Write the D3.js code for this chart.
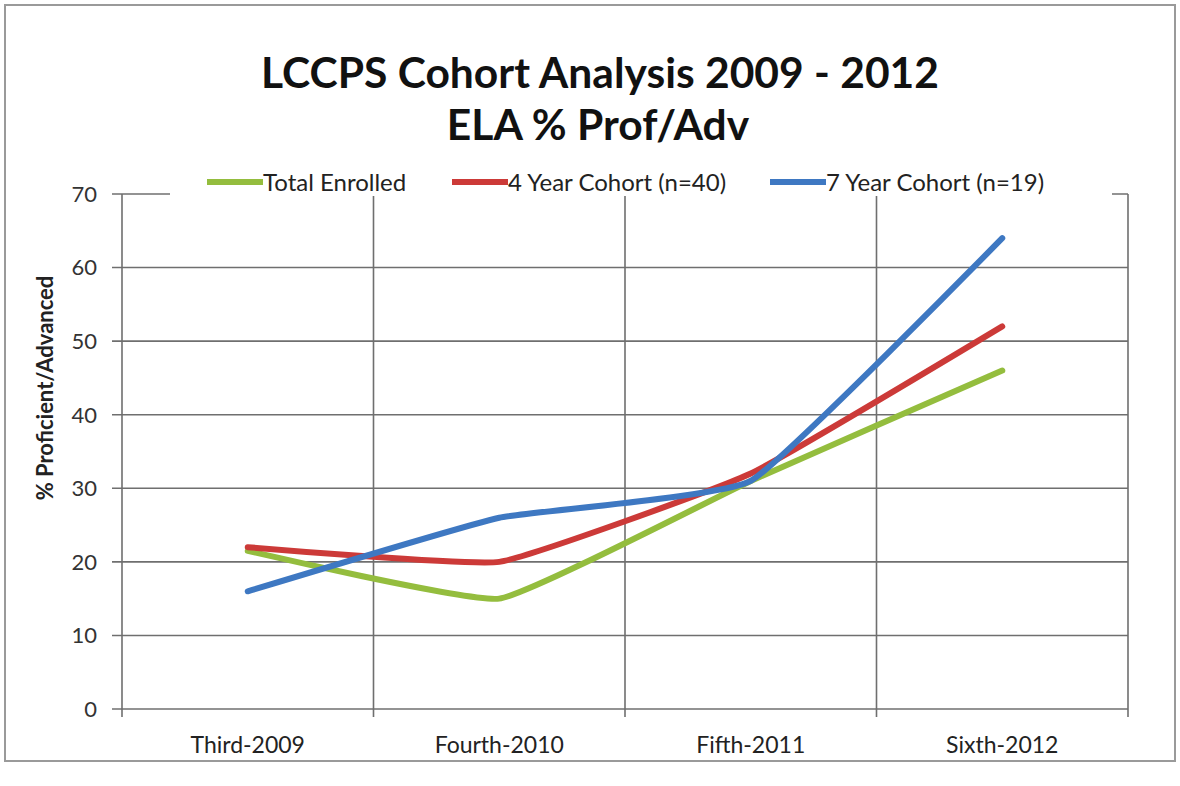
<!DOCTYPE html>
<html><head><meta charset="utf-8">
<script src="https://cdn.jsdelivr.net/npm/d3@7"></script>
<style>
html,body{margin:0;padding:0;background:#fff;}
svg{display:block;}
text{font-family:Lato,"Open Sans",sans-serif;fill:#222;}
</style></head>
<body><svg id="c" width="1180" height="786"></svg>
<script>
const categories = ["Third-2009","Fourth-2010","Fifth-2011","Sixth-2012"];
const seriesNames = ["Total Enrolled","4 Year Cohort (n=40)","7 Year Cohort (n=19)"];
const totalEnrolled = [21.5, 15, 31, 46];
const cohort4 = [22, 20, 32, 52];
const cohort7 = [16, 26, 31, 64];
const yTicks = [0,10,20,30,40,50,60,70];
const colors = ["#94bd3e","#cc3a38","#3e78c2"];

const svg = d3.select("#c");
const M = {left:122, right:1128, top:194, bottom:709};

// outer frame
svg.append("rect").attr("x",5).attr("y",5).attr("width",1170).attr("height",756)
  .attr("fill","#fff").attr("stroke","#9a9a9a").attr("stroke-width",2);

const x = d3.scaleBand().domain(categories).range([M.left,M.right]).padding(0);
const y = d3.scaleLinear().domain([0,70]).range([M.bottom,M.top]);

// horizontal gridlines
svg.append("g").selectAll("line").data(yTicks).join("line")
  .attr("x1",M.left-10).attr("x2",M.right)
  .attr("y1",d=>y(d)).attr("y2",d=>y(d))
  .attr("stroke","#6f6f6f").attr("stroke-width",1.6);

// vertical category separators
const bounds = categories.map(c=>x(c)).concat([M.right]);
svg.append("g").selectAll("line").data(bounds).join("line")
  .attr("x1",d=>d).attr("x2",d=>d)
  .attr("y1",M.top).attr("y2",M.bottom+8)
  .attr("stroke","#6f6f6f").attr("stroke-width",1.6);

// y tick labels
svg.append("g").selectAll("text").data(yTicks).join("text")
  .attr("x",M.left-25).attr("y",d=>y(d)).attr("dy","0.36em")
  .attr("text-anchor","end").style("font-size","22px").style("fill","#333")
  .text(d=>d);

// x labels
svg.append("g").selectAll("text").data(categories).join("text")
  .attr("x",d=>x(d)+x.bandwidth()/2).attr("y",753)
  .attr("text-anchor","middle").style("font-size","23px").style("fill","#222")
  .text(d=>d);

// y axis title
svg.append("text").attr("transform","translate(53,388) rotate(-90)")
  .attr("text-anchor","middle").style("font-size","22px").style("font-weight","bold")
  .text("% Proficient/Advanced");

// lines
const data = [totalEnrolled, cohort4, cohort7];
const line = d3.line().x((d,i)=>x(categories[i])+x.bandwidth()/2).y(d=>y(d))
  .curve(d3.curveCardinal.tension(0.65));
svg.append("g").selectAll("path").data(data).join("path")
  .attr("d",line).attr("fill","none")
  .attr("stroke",(d,i)=>colors[i]).attr("stroke-width",6)
  .attr("stroke-linecap","round").attr("stroke-linejoin","round");

// legend
svg.append("rect").attr("x",170).attr("y",166).attr("width",942).attr("height",30).attr("fill","#fff");
const legX = [207, 452, 770];
const lg = svg.append("g").selectAll("g").data(seriesNames).join("g")
  .attr("transform",(d,i)=>`translate(${legX[i]},182)`);
lg.append("line").attr("x1",0).attr("x2",56).attr("y1",0).attr("y2",0)
  .attr("stroke",(d,i)=>colors[i]).attr("stroke-width",6);
lg.append("text").attr("x",56).attr("dy","0.36em").style("font-size","24px").text(d=>d);

// title
const t1 = svg.append("text").attr("x",600).attr("y",88).attr("text-anchor","middle")
  .style("font-size","42px").style("font-weight","bold").style("fill","#111")
  .text("LCCPS Cohort Analysis 2009 - 2012");
const t2 = svg.append("text").attr("x",598).attr("y",140).attr("text-anchor","middle")
  .style("font-size","42px").style("font-weight","bold").style("fill","#111")
  .text("ELA % Prof/Adv");
// fit title width to reference (~678px)
const w = t1.node().getComputedTextLength();
const fs = 42*678/w;
t1.style("font-size",fs+"px"); t2.style("font-size",fs+"px");
</script></body></html>
